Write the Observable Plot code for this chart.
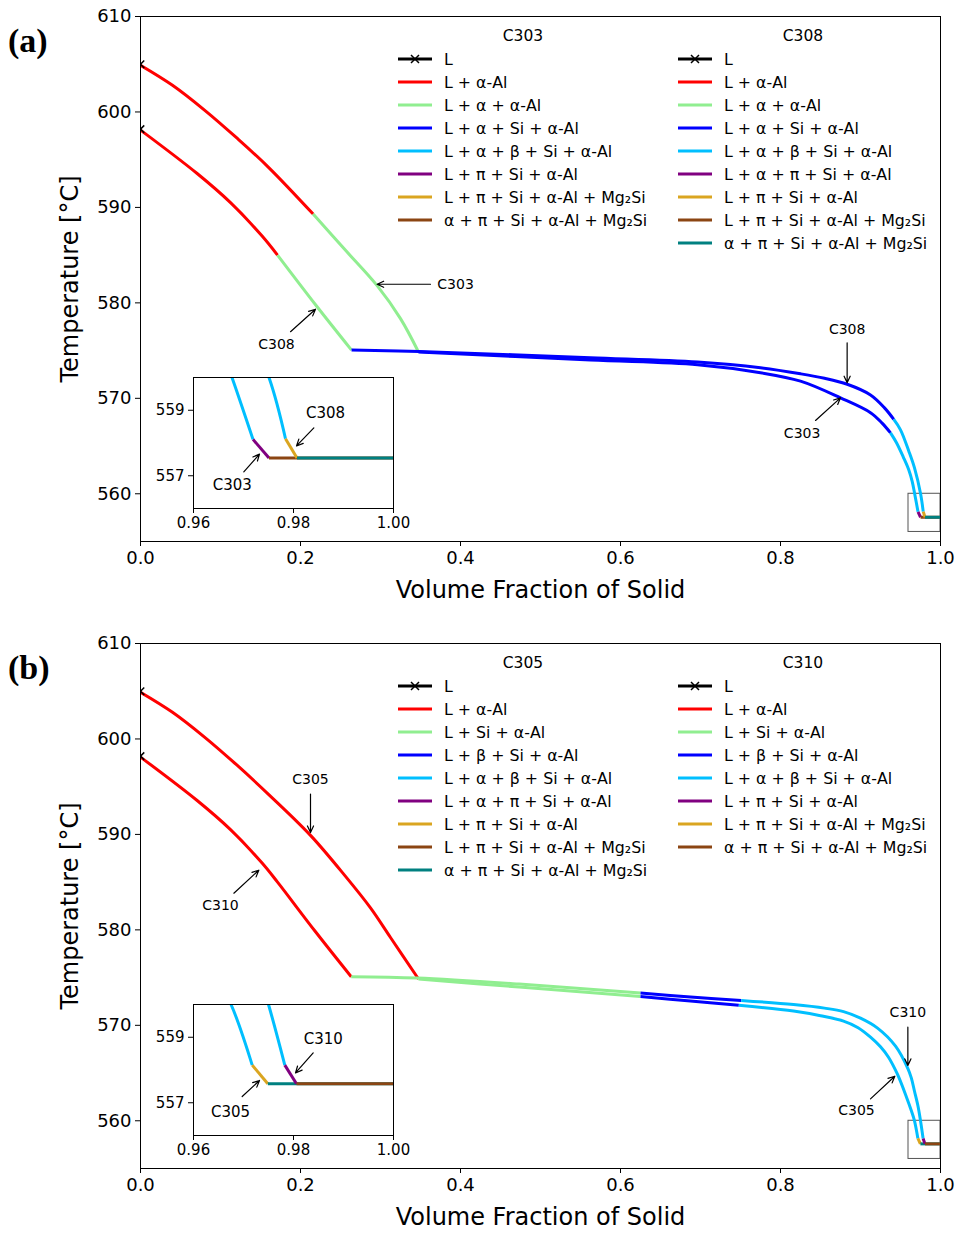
<!DOCTYPE html>
<html><head><meta charset="utf-8">
<script src="https://cdn.jsdelivr.net/npm/d3@7"></script>
<script src="https://cdn.jsdelivr.net/npm/@observablehq/plot@0.6"></script>
<style>
body{margin:0;background:#fff;}
#wrap{position:relative;width:957px;height:1233px;overflow:hidden;font-family:"DejaVu Sans",sans-serif;}
#wrap > div{position:absolute;}
svg{overflow:visible;}
</style></head><body><div id="wrap"></div>
<script>
// ---------- axes / ticks ----------
const xTicks = [0, 0.2, 0.4, 0.6, 0.8, 1.0];
const yTicks = [560, 570, 580, 590, 600, 610];
const xDomain = [0, 1];
const yDomain = [555, 610];
const insetXDomain = [0.96, 1.0];
const insetYDomain = [556, 560];
const insetXTicks = [0.96, 0.98, 1.0];
const insetYTicks = [557, 559];
const xLabel = "Volume Fraction of Solid";
const yLabel = "Temperature [°C]";

// phase colours (index = legend row)
const phaseColors = ["black", "#ff0000", "#90ee90", "#0000ff", "#00bfff", "#800080", "#daa520", "#8b4513", "#008080"];

// ---------- panel (a) ----------
const C303_fs = [0, 0,0.04,0.08,0.12,0.16,0.2158, 0.2158,0.2563,0.2958,0.325,0.3475, 0.3475,0.5625,0.6963,0.775,0.825,0.875,0.9125,0.927,0.9375, 0.9375,0.945,0.9535,0.9604,0.9646,0.9677,0.9719, 0.9719,0.9751, 0.9751,1.0];
const C303_T  = [605.0, 604.9,602.8,600.2,597.3,594.2,589.3, 589.3,585.5,581.8,578.35,574.85, 574.85,574.01,573.52,572.68,571.80,570.05,568.5,567.4,566.38, 566.38,565.35,563.85,562.5,561.3,560.0,558.11, 558.11,557.54, 557.54,557.54];
const C303_ph = [0, 1,1,1,1,1,1, 2,2,2,2,2, 3,3,3,3,3,3,3,3,3, 4,4,4,4,4,4,4, 5,5, 7,7];

const C308_fs = [0, 0,0.0708,0.1125,0.152,0.1713, 0.1713,0.2188,0.2638, 0.2638,0.3483,0.5625,0.6963,0.775,0.825,0.855,0.8834,0.9125,0.93,0.9416, 0.9416,0.95,0.9604,0.9675,0.9751,0.9784, 0.9784,0.9807, 0.9807,1.0];
const C308_T  = [598.2, 598.1,593.55,590.5,587.0,585.0, 585.0,579.8,575.05, 575.05,574.9,574.25,573.8,573.2,572.57,572.1,571.47,570.35,569.0,567.79, 567.79,566.7,564.46,562.71,560.0,558.13, 558.13,557.54, 557.54,557.54];
const C308_ph = [0, 1,1,1,1,1, 2,2,2, 3,3,3,3,3,3,3,3,3,3,3, 4,4,4,4,4,4, 6,6, 8,8];

const legendC303 = ["L","L + α-Al","L + α + α-Al","L + α + Si + α-Al","L + α + β + Si + α-Al","L + π + Si + α-Al","L + π + Si + α-Al + Mg₂Si","α + π + Si + α-Al + Mg₂Si"];
const legendC308 = ["L","L + α-Al","L + α + α-Al","L + α + Si + α-Al","L + α + β + Si + α-Al","L + α + π + Si + α-Al","L + π + Si + α-Al","L + π + Si + α-Al + Mg₂Si","α + π + Si + α-Al + Mg₂Si"];

const annA_text = ["C303","C308","C308","C303"];
const annA_tx = [0.371,0.17,0.8833,0.827];
const annA_ty = [581.95,575.65,577.23,566.32];
const annA_anchor = ["start","middle","middle","middle"];
const annA_x1 = [0.3625,0.1875,0.8833,0.84375];
const annA_y1 = [581.95,576.98,575.82,567.68];
const annA_x2 = [0.2958,0.21875,0.8833,0.875];
const annA_y2 = [581.95,579.33,571.63,570.05];

const insA_text = ["C308","C303"];
const insA_tx = [0.9864,0.96774];
const insA_ty = [558.92,556.70];
const insA_x1 = [0.98407,0.97006];
const insA_y1 = [558.46,557.12];
const insA_x2 = [0.9806,0.9732];
const insA_y2 = [557.91,557.66];

// ---------- panel (b) ----------
const C305_fs = [0, 0,0.04,0.08,0.12,0.16,0.2125,0.2563,0.2875,0.3125,0.3475, 0.3475,0.4733,0.625, 0.625,0.6875,0.7479, 0.7479,0.8163,0.85,0.8788,0.897,0.9125,0.925,0.935,0.9463,0.9575,0.9638,0.9675,0.97174, 0.97174,0.97486, 0.97486,1.0];
const C305_T  = [605.0, 604.9,602.8,600.2,597.3,594.2,589.9,585.6,582.3,579.2,574.85, 574.85,574.01,573.01, 573.01,572.54,572.09, 572.09,571.49,571.0,570.44,569.75,568.76,567.75,566.66,564.85,562.47,561.0,560.0,558.15, 558.15,557.58, 557.58,557.58];
const C305_ph = [0, 1,1,1,1,1,1,1,1,1,1, 2,2,2, 3,3,3, 4,4,4,4,4,4,4,4,4,4,4,4,4, 6,6, 8,8];

const C310_fs = [0, 0,0.0708,0.1125,0.152,0.1713,0.2188,0.2634, 0.2634,0.346,0.4733,0.625, 0.625,0.6875,0.7509, 0.7509,0.8163,0.855,0.8788,0.90,0.9213,0.9438,0.9591,0.9635,0.9675,0.9719,0.975,0.97826, 0.97826,0.9806, 0.9806,1.0];
const C310_T  = [598.2, 598.1,593.55,590.5,587.0,585.0,579.8,575.09, 575.09,574.95,574.32,573.38, 573.38,572.96,572.61, 572.61,572.17,571.8,571.44,570.75,569.71,567.82,565.5,564.5,563.09,561.52,560.0,558.15, 558.15,557.58, 557.58,557.58];
const C310_ph = [0, 1,1,1,1,1,1,1, 2,2,2,2, 3,3,3, 4,4,4,4,4,4,4,4,4,4,4,4,4, 5,5, 7,7];

const legendC305 = ["L","L + α-Al","L + Si + α-Al","L + β + Si + α-Al","L + α + β + Si + α-Al","L + α + π + Si + α-Al","L + π + Si + α-Al","L + π + Si + α-Al + Mg₂Si","α + π + Si + α-Al + Mg₂Si"];
const legendC310 = ["L","L + α-Al","L + Si + α-Al","L + β + Si + α-Al","L + α + β + Si + α-Al","L + π + Si + α-Al","L + π + Si + α-Al + Mg₂Si","α + π + Si + α-Al + Mg₂Si"];

const annB_text = ["C305","C310","C310","C305"];
const annB_tx = [0.2125,0.1,0.9592,0.895];
const annB_ty = [595.73,582.58,571.31,561.07];
const annB_anchor = ["middle","middle","middle","middle"];
const annB_x1 = [0.2125,0.1167,0.9592,0.9125];
const annB_y1 = [594.23,583.84,569.81,562.29];
const annB_x2 = [0.2125,0.1479,0.9592,0.9429];
const annB_y2 = [590.2,586.25,565.8,564.67];

const insB_text = ["C310","C305"];
const insB_tx = [0.98594,0.9674];
const insB_ty = [558.95,556.70];
const insB_x1 = [0.98394,0.96974];
const insB_y1 = [558.52,557.19];
const insB_x2 = [0.9804,0.9732];
const insB_y2 = [557.91,557.68];

// ---------- helpers ----------
function rows(fs, T, ph) { return fs.map((x, i) => ({x, T: T[i], ph: ph[i]})); }
function segments(data) {
  const segs = []; let cur = null;
  for (const d of data) {
    if (!cur || cur.ph !== d.ph) { cur = {ph: d.ph, pts: []}; segs.push(cur); }
    cur.pts.push(d);
  }
  return segs;
}
function curveMarks(alloys, sw) {
  const marks = [];
  for (const data of alloys) {
    for (const s of segments(data)) {
      if (s.ph === 0) continue;
      marks.push(Plot.line(s.pts, {x: "x", y: "T", stroke: phaseColors[s.ph], strokeWidth: sw, clip: true,
        curve: "catmull-rom", strokeLinecap: "butt", strokeLinejoin: "round"}));
    }
  }
  return marks;
}
function annots(text, tx, ty, anchor, x1, y1, x2, y2, fs) {
  const t = text.map((s, i) => ({s, x: tx[i], y: ty[i], a: anchor ? anchor[i] : "middle"}));
  const a = x1.map((v, i) => ({x1: v, y1: y1[i], x2: x2[i], y2: y2[i]}));
  return [
    Plot.arrow(a, {x1: "x1", y1: "y1", x2: "x2", y2: "y2", stroke: "black", strokeWidth: 1.2, headLength: 9, headAngle: 50}),
    Plot.text(t.filter(d => d.a === "start"), {x: "x", y: "y", text: "s", textAnchor: "start", fontSize: fs, fill: "black"}),
    Plot.text(t.filter(d => d.a === "middle"), {x: "x", y: "y", text: "s", textAnchor: "middle", fontSize: fs, fill: "black"})
  ];
}

const wrap = document.getElementById("wrap");

function panel(cfg) {
  const alloys = cfg.alloys;
  const liq = alloys.map(a => a.find(d => d.ph === 0));
  const box = [{x1: insetXDomain[0], x2: insetXDomain[1], y1: insetYDomain[0], y2: insetYDomain[1]}];
  const chart = Plot.plot({
    width: 957, height: 606, marginLeft: 140, marginRight: 17, marginTop: 16, marginBottom: 65,
    style: {fontFamily: "DejaVu Sans", color: "black", background: "transparent", fontSize: "18px"},
    x: {domain: xDomain}, y: {domain: yDomain},
    marks: [
      Plot.axisX({ticks: xTicks, tickFormat: d3.format(".1f"), tickSize: 5, tickPadding: 5, fontSize: 18, label: null}),
      Plot.axisY({ticks: yTicks, tickFormat: d3.format("d"), tickSize: 5, tickPadding: 4, fontSize: 18, label: null}),
      Plot.rect(box, {x1: "x1", x2: "x2", y1: "y1", y2: "y2", fill: "none", stroke: "#555", strokeWidth: 1}),
      ...curveMarks(alloys, 3),
      Plot.dot(liq, {x: "x", y: "T", symbol: "times", r: 3.5, stroke: "black", strokeWidth: 1.5, clip: true}),
      ...annots(cfg.ann.text, cfg.ann.tx, cfg.ann.ty, cfg.ann.anchor, cfg.ann.x1, cfg.ann.y1, cfg.ann.x2, cfg.ann.y2, 14),
      Plot.text([xLabel], {frameAnchor: "bottom", dy: 49, lineAnchor: "middle", textAnchor: "middle", text: d => d, fontSize: 24, fill: "black"}),
      Plot.text([yLabel], {frameAnchor: "left", dx: -70, rotate: -90, lineAnchor: "middle", textAnchor: "middle", text: d => d, fontSize: 24, fill: "black"}),
      Plot.frame({stroke: "black", strokeWidth: 1})
    ]
  });
  const svg = d3.select(chart);
  // legends
  const cols = [
    {title: cfg.titles[0], labels: cfg.labels[0], tx: 523, hx: 398, lx: 444},
    {title: cfg.titles[1], labels: cfg.labels[1], tx: 803, hx: 678, lx: 724}
  ];
  const g = svg.append("g").attr("font-family", "DejaVu Sans").attr("font-size", 15.8)
    .attr("fill", "black").attr("text-anchor", "start");
  for (const c of cols) {
    g.append("text").attr("x", c.tx).attr("y", 36).attr("text-anchor", "middle")
      .attr("dominant-baseline", "central").attr("font-size", 15.5).text(c.title);
    c.labels.forEach((lab, i) => {
      const y = 59 + 23 * i;
      g.append("line").attr("x1", c.hx).attr("x2", c.hx + 34).attr("y1", y).attr("y2", y)
        .attr("stroke", phaseColors[i]).attr("stroke-width", 3);
      if (i === 0) {
        const cx = c.hx + 17;
        g.append("path").attr("d", `M${cx-4},${y-4}L${cx+4},${y+4}M${cx-4},${y+4}L${cx+4},${y-4}`)
          .attr("stroke", "black").attr("stroke-width", 1.5).attr("fill", "none");
      }
      g.append("text").attr("x", c.lx).attr("y", y).attr("text-anchor", "start")
        .attr("dominant-baseline", "central").text(lab);
    });
  }
  svg.append("text").attr("x", 8).attr("y", 52).attr("text-anchor", "start").attr("font-family", "Liberation Serif")
    .attr("font-weight", "bold").attr("font-size", 34).attr("fill", "black").text(cfg.tag);

  const div = document.createElement("div");
  div.style.left = "0px"; div.style.top = cfg.top + "px";
  div.appendChild(chart);
  wrap.appendChild(div);

  // inset
  const inset = Plot.plot({
    width: 250, height: 171, marginLeft: 40, marginRight: 10, marginTop: 10, marginBottom: 30,
    style: {fontFamily: "DejaVu Sans", color: "black", background: "transparent", fontSize: "15px"},
    x: {domain: insetXDomain}, y: {domain: insetYDomain},
    marks: [
      Plot.frame({fill: "white"}),
      Plot.axisX({ticks: insetXTicks, tickFormat: d3.format(".2f"), tickSize: 5, tickPadding: 4, fontSize: 15, label: null}),
      Plot.axisY({ticks: insetYTicks, tickFormat: d3.format("d"), tickSize: 5, tickPadding: 4, fontSize: 15, label: null}),
      ...curveMarks(alloys, 3),
      ...annots(cfg.ins.text, cfg.ins.tx, cfg.ins.ty, null, cfg.ins.x1, cfg.ins.y1, cfg.ins.x2, cfg.ins.y2, 15),
      Plot.frame({stroke: "black", strokeWidth: 1})
    ]
  });
  const idiv = document.createElement("div");
  idiv.style.left = "153px"; idiv.style.top = (cfg.top + 367) + "px";
  idiv.appendChild(inset);
  wrap.appendChild(idiv);
}

panel({
  top: 0, tag: "(a)",
  alloys: [rows(C303_fs, C303_T, C303_ph), rows(C308_fs, C308_T, C308_ph)],
  titles: ["C303", "C308"], labels: [legendC303, legendC308],
  ann: {text: annA_text, tx: annA_tx, ty: annA_ty, anchor: annA_anchor, x1: annA_x1, y1: annA_y1, x2: annA_x2, y2: annA_y2},
  ins: {text: insA_text, tx: insA_tx, ty: insA_ty, x1: insA_x1, y1: insA_y1, x2: insA_x2, y2: insA_y2}
});
panel({
  top: 627, tag: "(b)",
  alloys: [rows(C305_fs, C305_T, C305_ph), rows(C310_fs, C310_T, C310_ph)],
  titles: ["C305", "C310"], labels: [legendC305, legendC310],
  ann: {text: annB_text, tx: annB_tx, ty: annB_ty, anchor: annB_anchor, x1: annB_x1, y1: annB_y1, x2: annB_x2, y2: annB_y2},
  ins: {text: insB_text, tx: insB_tx, ty: insB_ty, x1: insB_x1, y1: insB_y1, x2: insB_x2, y2: insB_y2}
});
</script>
</body></html>
